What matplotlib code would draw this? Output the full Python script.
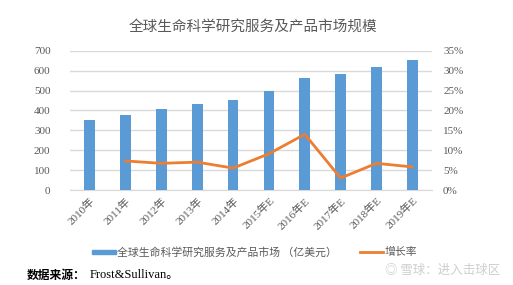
import matplotlib.pyplot as plt
from matplotlib.ticker import FuncFormatter

years = ['2010年', '2011年', '2012年', '2013年', '2014年',
         '2015年E', '2016年E', '2017年E', '2018年E', '2019年E']
market = [350, 375, 405, 430, 454, 497, 563, 581, 618, 655]
growth = [None, 7.3, 6.7, 7.0, 5.5, 9.1, 14.0, 3.0, 6.7, 5.8]

cjk = ['Noto Sans CJK SC', 'DejaVu Sans']
serif = ['Liberation Serif', 'Noto Sans CJK SC']
gray = '#595959'

fig = plt.figure(figsize=(5.13, 2.85), dpi=100)
ax = fig.add_axes([70 / 513, 1 - 190 / 285, 362 / 513, 139.3 / 285])
ax2 = ax.twinx()

x = list(range(len(years)))
ax.bar(x, market, width=0.3, color='#5B9BD5', zorder=3)
gx = [i for i, g in zip(x, growth) if g is not None]
gy = [g for g in growth if g is not None]
ax2.plot(gx, gy, color='#ED7D31', linewidth=2, zorder=4)

ax.set_xlim(-0.55, len(years) - 0.45)
ax.set_ylim(0, 700)
ax.set_yticks(range(0, 701, 100))
ax2.set_ylim(0, 35)
ax2.set_yticks(range(0, 36, 5))
ax2.yaxis.set_major_formatter(FuncFormatter(lambda v, p: f'{int(v)}%'))

ax.grid(axis='y', color='#d9d9d9', linewidth=1, zorder=0)
for a in (ax, ax2):
    for s in a.spines.values():
        s.set_visible(False)
    a.tick_params(length=0, labelsize=8, colors=gray)
ax.spines['bottom'].set_visible(True)
ax.spines['bottom'].set_color('#d9d9d9')

ax.set_xticks(x)
ax.set_xticklabels(years, rotation=45, ha='right', rotation_mode='anchor',
                   family=serif, fontsize=8, color=gray)
for lab in ax.get_yticklabels() + ax2.get_yticklabels():
    lab.set_family(serif)
ax.tick_params(axis='y', pad=14)
ax.tick_params(axis='x', pad=4)
ax2.tick_params(axis='y', pad=8)

fig.text(0.493, 1 - 27 / 285, '全球生命科学研究服务及产品市场规模', ha='center', va='center',
         fontsize=10.5, color=gray, family=cjk)

# legend
fig.patches.append(plt.Rectangle((92 / 513, 1 - 254 / 285), 24 / 513, 4 / 285,
                                 transform=fig.transFigure, color='#5B9BD5'))
fig.text(117 / 513, 1 - 252 / 285, '全球生命科学研究服务及产品市场 （亿美元）', va='center',
         fontsize=7.8, color=gray, family=cjk)
fig.lines.append(plt.Line2D([360 / 513, 383 / 513], [1 - 252 / 285, 1 - 252 / 285],
                            transform=fig.transFigure, color='#ED7D31', linewidth=2))
fig.text(385 / 513, 1 - 252 / 285, '增长率', va='center', fontsize=7.8, color=gray, family=cjk)

fig.text(27 / 513, 1 - 275 / 285, '数据来源：', va='center', fontsize=8.5, color='black',
         family=cjk, weight='bold')
fig.text(90 / 513, 1 - 275 / 285, 'Frost&Sullivan。', va='center', fontsize=9, color='black',
         family=serif)
fig.text(500 / 513, 1 - 270 / 285, '◎ 雪球：进入击球区', ha='right', va='center', fontsize=9,
         color='#cfcfcf', family=cjk)

fig.savefig('out.png', dpi=100)
